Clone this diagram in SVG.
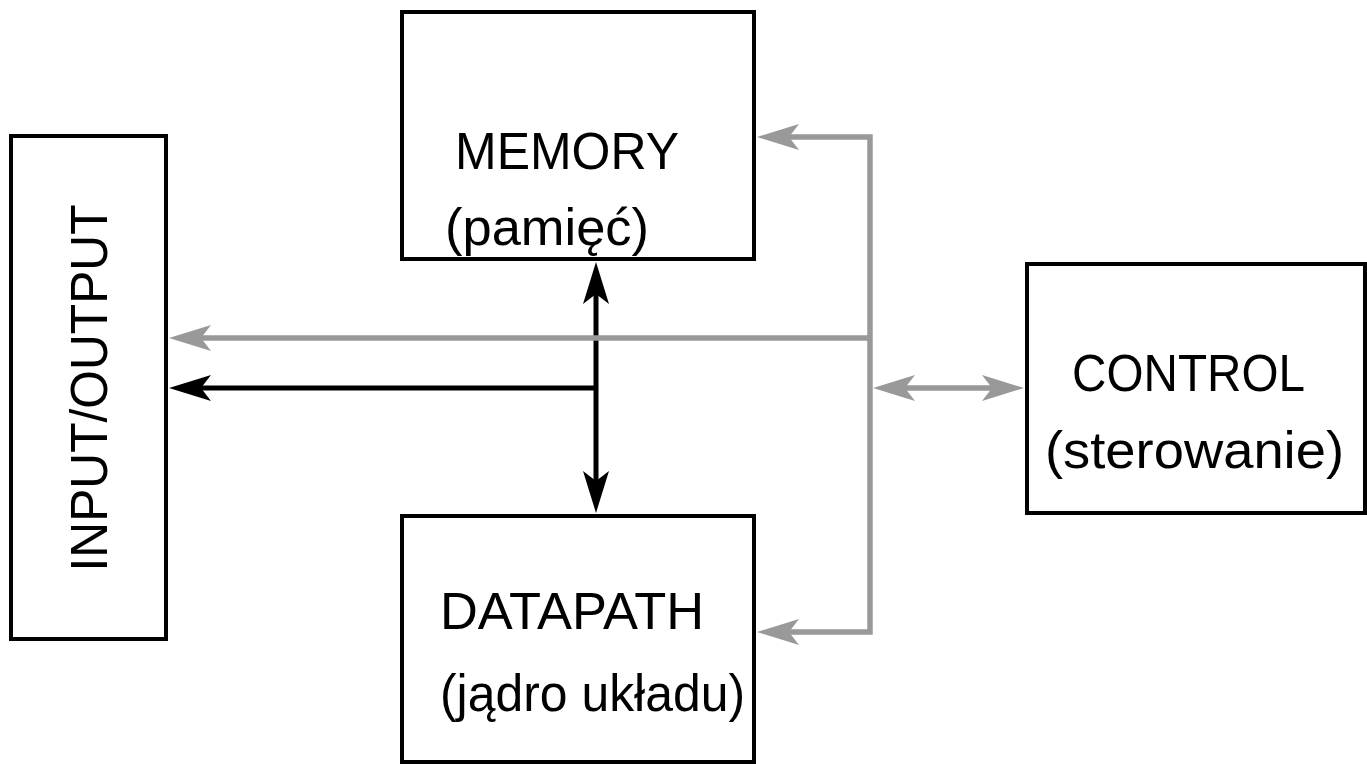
<svg xmlns="http://www.w3.org/2000/svg" width="1367" height="764" viewBox="0 0 1367 764">
<style>
.box{fill:#fff;stroke:#000;stroke-width:4}
.t{font-family:"Liberation Sans",Arial,Helvetica,sans-serif;font-size:52px;fill:#000}
.blk{fill:none;stroke:#000;stroke-width:5}
.gry{fill:none;stroke:#999;stroke-width:5.5}
</style>
<defs>
<marker id="ab" markerUnits="userSpaceOnUse" markerWidth="60" markerHeight="40" viewBox="-30 -20 60 40" refX="0" refY="0" orient="auto-start-reverse" overflow="visible">
<path d="M15,0 L-27,-13 L-17,0 L-27,13 Z" fill="#000"/>
</marker>
<marker id="ag" markerUnits="userSpaceOnUse" markerWidth="60" markerHeight="40" viewBox="-30 -20 60 40" refX="0" refY="0" orient="auto-start-reverse" overflow="visible">
<path d="M15,0 L-27,-13 L-17,0 L-27,13 Z" fill="#999"/>
</marker>
</defs>
<g id="memory">
<rect class="box" x="402" y="12" width="352" height="247"/>
<text class="t" x="455" y="169" textLength="224" lengthAdjust="spacingAndGlyphs">MEMORY</text>
<text class="t" x="445" y="245" textLength="204" lengthAdjust="spacingAndGlyphs">(pamięć)</text>
</g>
<g id="datapath">
<rect class="box" x="402" y="516" width="352" height="246"/>
<text class="t" x="440" y="629" textLength="264" lengthAdjust="spacingAndGlyphs">DATAPATH</text>
<text class="t" x="440" y="711" textLength="305" lengthAdjust="spacingAndGlyphs">(jądro układu)</text>
</g>
<g id="io">
<rect class="box" x="11" y="136" width="155" height="503"/>
<text class="t" transform="translate(107,388) rotate(-90)" text-anchor="middle" textLength="367" lengthAdjust="spacingAndGlyphs">INPUT/OUTPUT</text>
</g>
<g id="control">
<rect class="box" x="1027" y="264" width="338" height="249"/>
<text class="t" x="1072" y="391" textLength="233" lengthAdjust="spacingAndGlyphs">CONTROL</text>
<text class="t" x="1045" y="468" textLength="299" lengthAdjust="spacingAndGlyphs">(sterowanie)</text>
</g>
<g id="connectors">
<path class="blk" d="M596,277 V498" marker-start="url(#ab)" marker-end="url(#ab)"/>
<path class="blk" d="M596,388 H184" marker-end="url(#ab)"/>
<path class="gry" d="M772,137 H870 V632 H772" stroke-linejoin="miter" marker-start="url(#ag)" marker-end="url(#ag)"/>
<path class="gry" d="M870,338 H184" marker-end="url(#ag)"/>
<path class="gry" d="M888,388 H1009" marker-start="url(#ag)" marker-end="url(#ag)"/>
</g>
</svg>
